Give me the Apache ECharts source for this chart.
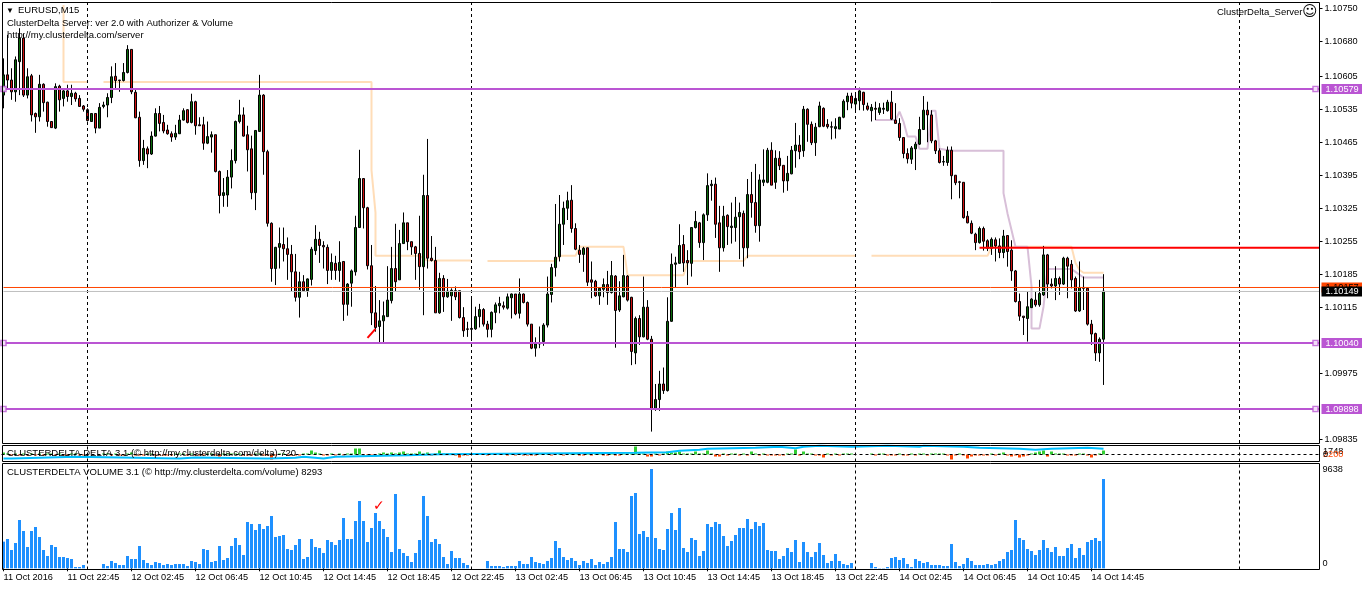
<!DOCTYPE html>
<html>
<head>
<meta charset="utf-8">
<title>EURUSD,M15</title>
<script src="https://cdn.jsdelivr.net/npm/echarts@6/dist/echarts.min.js"></script>
<style>
  html, body { margin: 0; padding: 0; background: #fff; overflow: hidden; }
  #main { width: 1362px; height: 590px; }
</style>
</head>
<body>
<div id="main"></div>
<script>
// prices are kept in points above 1.10000 (1 point = 0.00001)
const opens = [566,609,598,573,637,687,566,607,527,520,
  589,551,510,496,585,559,575,563,570,559,
  543,535,510,527,496,542,545,561,606,598,
  597,614,663,572,519,427,452,441,479,527,
  508,492,484,477,484,513,535,508,552,503,
  503,464,477,482,404,353,354,392,427,510,
  524,482,452,359,489,566,446,294,198,243,
  249,240,228,191,137,170,151,175,236,260,
  247,243,194,209,194,213,122,167,191,285,
  389,327,204,104,75,87,96,130,198,174,
  251,295,255,244,230,202,353,220,215,104,
  177,138,140,151,151,94,70,69,70,96,
  111,80,69,105,119,119,114,136,144,103,
  144,126,80,29,38,43,78,143,200,223,
  292,326,343,283,237,228,242,174,171,140,
  154,164,147,182,110,138,182,137,19,92,
  53,116,48,-99,-80,-47,-61,86,207,209,
  249,215,209,285,295,253,312,374,377,295,
  242,311,285,285,308,315,242,355,338,289,
  381,381,449,381,432,417,384,399,448,460,
  448,536,504,465,499,538,504,499,495,494,
  519,552,564,547,554,572,543,533,538,529,
  536,533,551,513,506,476,442,430,452,462,
  493,534,524,469,448,424,423,449,396,382,
  381,309,294,271,253,283,257,241,259,246,
  232,268,237,193,128,97,92,115,131,121,
  142,227,165,161,177,165,220,207,177,108,
  158,156,80,60,19,48];
const closes = [609,598,573,641,687,566,605,524,520,589,
  550,510,497,584,556,575,563,570,558,542,
  536,512,527,496,540,545,561,605,597,597,
  614,663,573,518,427,453,441,479,527,506,
  490,484,477,485,513,533,508,552,501,501,
  464,478,482,404,353,359,392,427,510,524,
  479,450,359,491,566,446,294,198,243,251,
  240,228,191,137,170,151,176,239,260,247,
  244,194,211,194,211,122,165,193,285,389,
  327,204,104,73,87,98,131,198,170,251,
  295,255,244,230,202,353,220,215,104,177,
  138,150,152,138,94,66,69,71,96,111,
  80,69,105,121,124,116,138,144,102,144,
  126,80,29,38,40,78,144,200,222,292,
  326,342,283,239,228,241,169,169,140,156,
  164,147,183,109,140,183,131,22,92,53,
  116,48,-99,-80,-47,-61,86,207,210,247,
  210,210,285,298,253,312,374,377,292,242,
  309,287,288,307,317,242,355,338,289,386,
  386,449,375,432,416,384,400,449,460,446,
  536,504,465,498,543,500,499,498,499,519,
  553,564,549,559,575,546,536,540,536,539,
  538,551,515,506,476,442,431,454,462,493,
  534,524,469,448,423,425,449,395,380,381,
  306,295,273,253,283,256,241,260,246,232,
  267,234,193,128,97,94,117,133,121,145,
  227,165,161,177,165,220,203,174,108,158,
  156,80,59,19,48,150];
const lows = [538,577,556,552,566,562,559,510,486,510,
  531,499,497,494,531,542,552,545,552,542,
  531,510,510,485,496,538,519,549,581,573,
  595,612,568,517,414,418,411,439,478,489,
  485,482,467,471,484,512,506,506,482,501,
  450,462,444,402,315,329,329,368,421,506,
  478,404,345,322,488,397,287,170,163,198,
  213,174,150,128,94,151,138,162,227,210,
  198,165,174,174,170,87,98,117,183,285,
  283,196,78,64,39,39,96,124,150,174,
  251,237,227,174,153,99,198,213,104,102,
  106,136,87,131,92,53,53,45,68,73,
  75,52,52,82,103,111,111,92,99,92,
  124,75,27,11,29,34,73,126,181,213,
  248,301,274,237,210,191,161,135,138,121,
  137,121,145,30,106,137,128,-7,-5,36,
  52,46,-148,-104,-104,-68,-63,85,158,208,
  191,163,181,283,242,216,299,342,263,191,
  234,248,251,255,218,202,220,306,274,255,
  373,379,375,367,407,359,363,398,412,430,
  435,467,460,437,498,498,495,472,474,494,
  517,534,538,531,534,533,533,510,513,524,
  526,531,513,505,469,432,421,420,407,460,
  492,466,464,441,421,416,416,345,375,347,
  304,294,271,237,251,236,235,227,213,220,
  220,202,172,126,87,57,43,115,117,117,
  140,135,156,131,142,163,135,156,106,106,
  110,77,36,2,0,-49];
const highs = [644,694,623,648,708,697,623,611,529,609,
  591,552,510,591,588,577,588,588,573,566,
  545,538,527,527,549,552,570,627,634,598,
  634,672,663,581,531,471,457,489,538,543,
  524,503,489,503,524,538,536,569,554,519,
  520,510,489,482,406,390,407,451,512,556,
  540,501,480,492,609,568,450,296,244,285,
  285,264,248,229,191,184,177,244,290,276,
  256,249,230,225,256,213,167,196,310,450,
  389,329,248,161,131,128,203,244,293,280,
  317,295,255,246,310,397,473,267,244,189,
  184,176,156,160,151,116,85,138,117,123,
  114,87,107,126,138,128,145,145,144,177,
  145,128,80,52,75,82,181,208,335,354,
  340,361,375,294,248,244,242,213,174,158,
  177,193,214,184,171,227,184,138,96,99,
  181,131,55,-47,-19,-12,137,230,223,292,
  269,237,285,320,297,315,400,386,391,331,
  331,313,338,350,338,321,388,403,420,398,
  451,454,466,449,447,417,437,458,507,481,
  543,538,510,507,552,540,515,510,517,520,
  557,571,571,571,582,573,550,547,552,549,
  550,556,575,549,517,476,453,458,467,520,
  564,552,534,471,453,437,457,457,396,384,
  381,320,300,274,287,287,260,264,264,262,
  280,269,258,195,145,97,149,135,149,174,
  246,229,177,203,181,223,223,216,181,213,
  181,158,89,62,52,186];

const volumes = [2587,2846,1779,2458,4689,3622,2070,3622,4010,3040,
  1779,1197,2264,2070,1100,1100,1003,906,129,129,
  323,0,0,0,0,420,226,711,517,323,
  323,1197,906,906,2167,809,517,323,614,517,
  323,420,323,420,420,420,226,711,614,420,
  1876,1779,614,711,2167,809,1003,2167,2943,2264,
  1294,4495,4301,3719,4301,3816,4107,5077,3040,3137,
  3234,1876,1779,2264,2846,906,1100,2846,2070,1973,
  1488,2749,2555,2264,2749,4883,2846,2846,4592,6533,
  4592,2555,3913,5368,4592,3816,3040,1585,7212,1876,
  1488,1197,614,1488,2749,7018,5077,2555,2846,2361,
  1100,420,1682,1003,1003,517,323,0,0,0,
  0,711,226,226,226,129,226,226,226,711,
  420,420,1100,614,517,420,711,1003,2652,1973,
  1100,809,1003,711,323,711,517,906,323,614,
  420,614,1100,4495,1876,1876,1585,7018,7309,3331,
  3622,3040,9638,2943,1876,1779,3816,5368,3719,5853,
  1973,1585,2943,2749,1197,1682,4301,4010,4495,4301,
  3137,2167,2652,3234,3913,3913,4786,3816,4495,4107,
  4398,1779,1682,1682,906,1197,1973,1585,2749,614,
  2555,1585,1100,1585,2458,1294,517,711,1391,711,
  420,323,517,0,0,0,0,517,129,32,
  32,129,1003,1100,809,1003,420,129,906,711,
  517,614,323,323,323,226,226,2361,614,226,
  420,1003,711,323,323,323,420,323,420,711,
  906,1585,1779,4689,2943,2749,1876,1682,1294,1779,
  2749,1973,1585,2070,1197,1197,1973,2361,1003,1973,
  1294,2555,2749,2943,2652,8667];

const deltas = [200,100,-100,100,-100,100,-100,100,-100,100,-100,100,100,-100,100,-100,-100,100,100,-100,-100,
  0,0,0,0,
  100,100,-100,100,-100,-100,100,200,-100,-100,-100,100,100,-100,-100,-100,
  -100,-100,100,100,100,-100,100,-100,-100,-100,100,100,-100,-200,100,100,100,100,100,-100,-100,-100,100,100,-100,-100,
  -500,-100,100,100,-100,-100,-100,-100,100,100,
  400,200,100,-100,-100,100,-100,100,-100,100,100,
  600,600,-100,-100,-100,-200,100,200,100,200,100,
  200,300,100,100,100,300,100,200,-100,100,400,100,100,100,-100,-300,-100,-100,
  0,0,0,0,
  -100,100,100,100,100,-100,100,-100,100,-100,-100,-100,-100,100,100,100,-100,100,100,-100,100,100,100,-100,-100,100,-100,100,100,-100,-100,100,-100,-100,100,100,100,
  800,100,100,-200,-200,100,-100,100,300,200,200,300,100,100,100,300,100,100,400,100,-200,-200,100,-100,100,100,-100,100,-100,300,100,-100,100,-100,-100,-100,-100,-100,100,100,500,-100,300,100,100,-100,-100,-300,100,-100,100,-100,100,100,100,
  0,0,0,0,
  100,-100,100,100,-100,-100,-100,100,-100,-100,100,-100,100,100,-100,100,100,100,100,-100,-500,-100,100,-100,-400,-200,-100,-100,-100,-100,100,-100,100,200,-100,-200,-100,-300,-200,-100,100,200,300,400,-200,300,100,100,100,-100,-100,-100,100,100,-100,-300,-100,100,400];

// cumulative delta line, [bar, value] at each step
const deltaTotal = [[0,-400],[2,-233],[18,-400],[44,-300],[48,-400],[66,-333],[73,-233],[75,-400],[80,-233],[83,-67],
  [101,33],[109,167],[158,233],[166,367],[169,467],[174,567],[176,667],[188,767],[194,633],[198,767],[200,867],
  [204,767],[212,867],[221,767],[229,867],[230,767],[240,667],[244,567],[254,467],[258,567],[262,667],[271,567],[275,567]];

// the two level lines drawn by the ClusterDelta server indicator
const peachLine = [[15,757],[15,641],[15,594],[21,594],[22,null],[25,594],[92,594],[92,407],[93,316],[93,225],[104,225],[106,215],[117,215],
  [118,null],[121,214],[138,214],[139,225],[143,225],[144,244],[155,244],[156,184],[170,184],[171,214],[185,214],[186,225],[213,225],
  [214,null],[217,225],[246,225],[247,244],[267,244],[268,210],[269,195],[270,189],[275,189]];
const thistleLine = [[218,513],[223,513],[224,531],[225,510],[226,478],[228,478],[229,452],[231,452],[232,533],[233,533],[234,452],[237,448],
  [250,448],[250,358],[251,315],[252,280],[253,244],[256,244],[257,160],[257,71],[259,71],[260,117],[261,197],[267,197],[268,191],[270,179],[275,179]];

const levelPrices = [579, 40, -100];
const levelTags = ['1.10579', '1.10040', '1.09898'];
const redLevel = 242;
const askPrice = 157.8;
const bidPrice = 149.3;
const redMark = [[91,51],[93,70]];

const priceTicks = [750,680,605,535,465,395,325,255,185,115,-25,-165];
const volumeTicks = [9638, 0];
const dayBreaks = [21,117,213,309];
const timeLabels = ['11 Oct 2016','11 Oct 22:45','12 Oct 02:45','12 Oct 06:45','12 Oct 10:45','12 Oct 14:45','12 Oct 18:45','12 Oct 22:45',
  '13 Oct 02:45','13 Oct 06:45','13 Oct 10:45','13 Oct 14:45','13 Oct 18:45','13 Oct 22:45','14 Oct 02:45','14 Oct 06:45','14 Oct 10:45','14 Oct 14:45'];

const BAR_COUNT = 330;
const FONT = 'Liberation Sans';
const PURPLE = '#BA55D3';

const toPrice = p => 1.1 + p / 100000;
const priceLabel = v => v.toFixed(5);
const bars = [];
for (let i = 0; i < BAR_COUNT; i++) bars.push(String(i));

const candleData = opens.map((o, i) => [toPrice(o), toPrice(closes[i]), toPrice(lows[i]), toPrice(highs[i])]);
const priceLine = arr => arr.map(d => [d[0], d[1] === null ? null : toPrice(d[1])]);

function makeXAxis(index, withLabels) {
  return {
    type: 'category', gridIndex: index, data: bars, boundaryGap: true,
    axisLine: { show: false },
    axisTick: {
      show: withLabels, length: 3, alignWithLabel: true, lineStyle: { color: '#000' },
      interval: (i) => i % 16 === 0 && i / 16 < timeLabels.length
    },
    axisLabel: {
      show: withLabels, align: 'left', margin: 3, color: '#000', fontFamily: FONT, fontSize: 9.2,
      hideOverlap: false,
      interval: (i) => i % 16 === 0 && i / 16 < timeLabels.length,
      formatter: (v, i) => timeLabels[i / 16]
    },
    splitLine: { show: false }
  };
}

// dashed day separators, one helper series per panel
function breakSeries(x, y) {
  return {
    type: 'line', xAxisIndex: x, yAxisIndex: y, data: [], silent: true, z: 2,
    markLine: {
      silent: true, symbol: 'none', animation: false, label: { show: false },
      lineStyle: { color: '#000', type: [3, 3], width: 1 },
      data: dayBreaks.map(b => ({ xAxis: b }))
    }
  };
}

function levelSeries(value, tag, color, width, tagBg, tagColor, z) {
  return {
    type: 'line', xAxisIndex: 0, yAxisIndex: 0, z: z, silent: true, showSymbol: false, symbol: 'none',
    data: [[0, toPrice(value)], [BAR_COUNT - 1, toPrice(value)]],
    lineStyle: { color: color, width: width },
    endLabel: {
      show: true, formatter: tag, distance: 2, backgroundColor: tagBg, color: tagColor,
      fontFamily: FONT, fontSize: 9.2, lineHeight: 10, padding: [0, 4, 0, 4], width: 33
    }
  };
}

function text(str, x, y, color, size, family) {
  return { type: 'text', z: 20, silent: true, style: { text: str, x: x, y: y, fill: color || '#000', font: (size || 9.5) + 'px "' + (family || FONT) + '"', verticalAlign: 'middle' } };
}
function frame(x, y, w, h) {
  return { type: 'rect', z: 19, silent: true, shape: { x: x, y: y, width: w, height: h }, style: { fill: null, stroke: '#000', lineWidth: 1 } };
}

const option = {
  animation: false,
  backgroundColor: '#fff',
  grid: [
    { left: 1.5, width: 1320, top: 2, height: 441 },
    { left: 1.5, width: 1320, top: 445, height: 16.5 },
    { left: 1.5, width: 1320, top: 463.5, height: 106 }
  ],
  xAxis: [makeXAxis(0, false), makeXAxis(1, false), makeXAxis(2, true)],
  yAxis: [
    {
      type: 'value', gridIndex: 0, position: 'right', offset: -2, scale: true,
      min: toPrice(-172.2), max: toPrice(763.6),
      axisLine: { show: false }, splitLine: { show: false },
      axisTick: { show: true, length: 3, lineStyle: { color: '#000' }, customValues: priceTicks.map(toPrice) },
      axisLabel: { margin: 5, color: '#000', fontFamily: FONT, fontSize: 9.2, customValues: priceTicks.map(toPrice), formatter: v => priceLabel(v) }
    },
    { type: 'value', gridIndex: 1, min: -700, max: 950, axisLine: { show: false }, axisTick: { show: false }, axisLabel: { show: false }, splitLine: { show: false } },
    {
      type: 'value', gridIndex: 2, position: 'right', offset: -2, min: -116, max: 10172,
      axisLine: { show: false }, axisTick: { show: false }, splitLine: { show: false },
      axisLabel: {
        margin: 3, color: '#000', fontFamily: FONT, fontSize: 9.2, customValues: volumeTicks,
        formatter: v => v === 0 ? '{zero|0}' : String(v),
        rich: { zero: { padding: [0, 0, 10, 0], fontFamily: FONT, fontSize: 9.2, color: '#000' } }
      }
    }
  ],
  series: [
    breakSeries(0, 0), breakSeries(1, 1), breakSeries(2, 2),
    { type: 'line', xAxisIndex: 0, yAxisIndex: 0, z: 1, silent: true, symbol: 'none', data: priceLine(peachLine), lineStyle: { color: '#FFDDB8', width: 2 } },
    { type: 'line', xAxisIndex: 0, yAxisIndex: 0, z: 1, silent: true, symbol: 'none', data: priceLine(thistleLine), lineStyle: { color: '#D8BFD8', width: 2 } },
    {
      type: 'candlestick', xAxisIndex: 0, yAxisIndex: 0, z: 3, data: candleData, barWidth: 3, silent: true,
      itemStyle: { color: '#0A6A0A', color0: '#D01010', borderColor: '#000', borderColor0: '#000', borderColorDoji: '#000', borderWidth: 1 }
    },
    { type: 'line', xAxisIndex: 0, yAxisIndex: 0, z: 6, silent: true, symbol: 'none', data: priceLine(redMark), lineStyle: { color: '#FF0000', width: 2 } },
    levelSeries(askPrice, '1.10157', '#FF4500', 1, '#FF4500', '#000', 7),
    levelSeries(bidPrice, '1.10149', '#C0C0C0', 1, '#000', '#fff', 8),
    {
      type: 'line', xAxisIndex: 0, yAxisIndex: 0, z: 9, silent: true, symbol: 'none',
      data: [[244, toPrice(redLevel)], [BAR_COUNT - 1, toPrice(redLevel)]], lineStyle: { color: '#FF0000', width: 2 }
    },
    ...levelPrices.map((p, k) => levelSeries(p, levelTags[k], PURPLE, 2, PURPLE, '#fff', 10)),
    {
      type: 'scatter', xAxisIndex: 0, yAxisIndex: 0, z: 11, silent: true, symbol: 'rect', symbolSize: 5,
      data: levelPrices.flatMap(p => [[0, toPrice(p)], [328, toPrice(p)]]),
      itemStyle: { color: '#fff', borderColor: PURPLE, borderWidth: 1.5 }
    },
    {
      type: 'bar', xAxisIndex: 1, yAxisIndex: 1, z: 3, barWidth: 3, silent: true, data: deltas,
      itemStyle: { color: p => p.value >= 0 ? '#32CD32' : '#FF4500' },
      markLine: {
        silent: true, symbol: 'none', animation: false, label: { show: false },
        lineStyle: { color: '#000', type: [3, 3], width: 1 }, data: [{ yAxis: 0 }]
      }
    },
    { type: 'line', xAxisIndex: 1, yAxisIndex: 1, z: 4, silent: true, symbol: 'none', step: 'end', data: deltaTotal, lineStyle: { color: '#00BFFF', width: 2 } },
    { type: 'bar', xAxisIndex: 2, yAxisIndex: 2, z: 3, barWidth: 3, silent: true, data: volumes, itemStyle: { color: '#1E90FF' } }
  ],
  graphic: [
    frame(2.5, 2.5, 1317, 441), frame(2.5, 445.5, 1317, 16), frame(2.5, 463.5, 1317, 106),
    text('▼', 6, 10.5, '#000', 8),
    text('EURUSD,M15', 18, 10.5),
    text('ClusterDelta Server: ver 2.0 with Authorizer & Volume', 7, 23.5),
    text('http://my.clusterdelta.com/server', 7, 35.5),
    text('ClusterDelta_Server', 1217, 12),
    text('☺', 1302, 12, '#000', 15, 'DejaVu Sans'),
    text('CLUSTERDELTA DELTA 3.1 (© http://my.clusterdelta.com/delta) 720', 7, 453),
    text('CLUSTERDELTA VOLUME 3.1 (© http://my.clusterdelta.com/volume) 8293', 7, 472.5),
    text('1748', 1323, 451, '#000', 9.2),
    text('2200', 1323, 454, '#FF4500', 9.2),
    text('0', 1323, 454, '#000', 9.2),
    text('✓', 373, 506, '#FF0000', 14, 'DejaVu Sans')
  ]
};

const chart = echarts.init(document.getElementById('main'), null, { renderer: 'canvas' });
chart.setOption(option);
</script>
</body>
</html>
